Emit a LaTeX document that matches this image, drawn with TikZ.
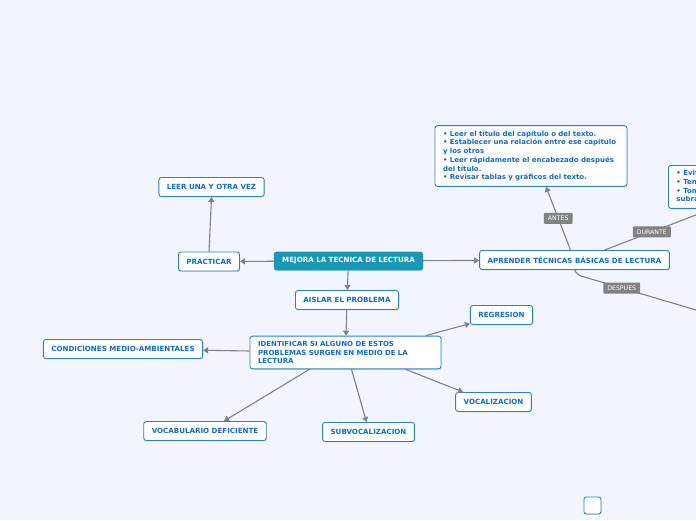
\documentclass[tikz,border=0pt]{standalone}
\usepackage{fontspec}
\setmainfont{DejaVu Sans}
\usepackage{xcolor}
\usepackage{tikz}
\usetikzlibrary{arrows.meta,positioning,shadows,calc}
\definecolor{pagebg}{RGB}{242,245,253}
\definecolor{topicblue}{RGB}{40,125,215}
\definecolor{topictext}{RGB}{20,105,205}
\definecolor{rootteal}{RGB}{24,152,182}
\definecolor{linkgray}{RGB}{128,130,138}
\definecolor{taggray}{RGB}{130,130,130}
\tikzset{
  topic/.style={draw=topicblue, line width=0.9pt, fill=white, rounded corners=2.5pt,
    font=\fontsize{7.1}{8}\selectfont\bfseries, text=topictext, minimum height=19pt,
    inner xsep=8pt, drop shadow={shadow xshift=0.6pt, shadow yshift=-0.9pt, opacity=0.25}},
  roottopic/.style={topic, draw=rootteal, fill=rootteal, text=white},
  notetopic/.style={topic, align=left, inner xsep=8pt, inner ysep=5pt,
    font=\fontsize{7}{8.7}\selectfont\bfseries},
  link/.style={draw=linkgray, line width=1.1pt, -{Triangle[length=5pt,width=6pt]}},
  plainlink/.style={draw=linkgray, line width=1.1pt},
  tag/.style={fill=taggray, text=white, font=\fontsize{6.2}{7}\selectfont,
    inner xsep=4pt, inner ysep=1pt, minimum height=11pt, rounded corners=0.8pt}
}
\begin{document}
\begin{tikzpicture}[x=1pt, y=-1pt]
\path[use as bounding box] (0,0) rectangle (696,520);
\clip (0,0) rectangle (696,520);
\fill[pagebg] (0,0) rectangle (696,520);
\begin{scope}
\node[roottopic, minimum height=18pt] (mejora) at (348.5,261) {MEJORA LA TECNICA DE LECTURA};
\node[topic] (practicar) at (209,261.5) {PRACTICAR};
\node[topic] (leer) at (211.5,187) {LEER UNA Y OTRA VEZ};
\node[topic] (aislar) at (347,300) {AISLAR EL PROBLEMA};
\node[notetopic, text width=175pt] (identificar) at (345.5,352.5) {IDENTIFICAR SI ALGUNO DE ESTOS\\PROBLEMAS SURGEN EN MEDIO DE LA\\LECTURA};
\node[topic] (condiciones) at (123,349) {CONDICIONES MEDIO-AMBIENTALES};
\node[topic] (regresion) at (501.5,315) {REGRESION};
\node[topic] (vocalizacion) at (493.5,402) {VOCALIZACION};
\node[topic] (subvocalizacion) at (368.5,432) {SUBVOCALIZACION};
\node[topic] (vocabulario) at (205,431) {VOCABULARIO DEFICIENTE};
\node[topic] (aprender) at (574.5,260) {APRENDER TÉCNICAS BÁSICAS DE LECTURA};
\node[notetopic, text width=176pt] (antes) at (531,156) {• Leer el título del capítulo o del texto.\\• Establecer una relación entre ese capítulo\\y los otros\\• Leer rápidamente el encabezado después\\del título.\\• Revisar tablas y gráficos del texto.};
\node[notetopic, text width=110pt, anchor=north west] (durante) at (668,165) {• Evitar\\• Tener\\• Tomar notas y\\subrayar};
\node[topic, minimum width=17pt, minimum height=17pt, inner sep=0pt] (blank) at (592.5,505.5) {};
\coordinate (despues) at (730,320);

\draw[link] (mejora) -- (practicar);
\draw[link] (mejora) -- (aprender);
\draw[link] (mejora) -- (aislar);
\draw[link] (practicar.north) -- (leer.south);
\draw[link] (aislar) -- (identificar);
\draw[link] (identificar) -- (condiciones);
\draw[link] ($(identificar.north east)+(-16,0)$) -- (regresion);
\draw[link] ($(identificar.south east)+(-36,0)$) -- ($(vocalizacion.north west)+(8,0)$);
\draw[link] ($(identificar.south)+(6,0)$) -- ($(subvocalizacion.north)+(-2,0)$);
\draw[link] ($(identificar.south)+(-36,0)$) -- ($(vocabulario.north)+(19,0)$);
\draw[link] ($(aprender.north)+(-4,0)$) -- node[tag]{ANTES} ($(antes.south)+(15,0)$);
\draw[plainlink] ($(aprender.north)+(30,0)$) -- node[tag, pos=0.44]{DURANTE} ($(durante.south west)+(44,0)$);
\draw[plainlink, rounded corners=4pt] (aprender.south) -- ++(3,5) -- node[tag, pos=0.29]{DESPUES} (despues);
\end{scope}
\end{tikzpicture}
\end{document}
